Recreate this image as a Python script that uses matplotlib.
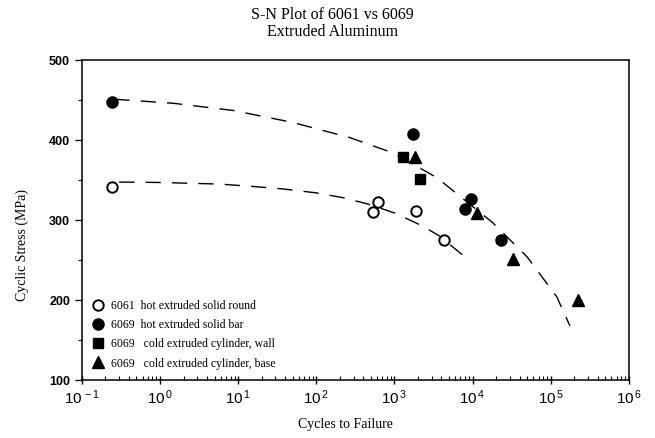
import matplotlib
matplotlib.use("Agg")
import matplotlib.pyplot as plt
from matplotlib.ticker import LogLocator, MultipleLocator, FixedLocator

plt.rcParams['font.family'] = ['Liberation Serif', 'DejaVu Serif']
plt.rcParams['mathtext.fontset'] = 'custom'
plt.rcParams['mathtext.rm'] = 'Liberation Sans'
plt.rcParams['mathtext.it'] = 'Liberation Sans'

# 6061 hot extruded solid round
al6061_n = [0.24, 530, 614, 1880, 4290]
al6061_s = [341, 310, 322, 311, 275]
# 6069 hot extruded solid bar
bar_n = [0.24, 1720, 7960, 9510, 23000]
bar_s = [447, 407, 314, 326, 275]
# 6069 cold extruded cylinder, wall
wall_n = [1280, 2120]
wall_s = [379, 351]
# 6069 cold extruded cylinder, base
base_n = [1830, 11350, 32800, 222800]
base_s = [379, 309, 251, 200]

# dashed trend lines
fit6069_n = [0.26, 1.46, 8.6, 50, 270, 955, 3500, 18000, 50000, 120000, 176000]
fit6069_s = [451, 446, 437, 422, 403, 384, 353, 297, 254, 204, 168]
fit6061_n = [0.3, 1.0, 5.8, 15.5, 37, 100, 220, 460, 1000, 2250, 3800, 8200]
fit6061_s = [347.5, 347, 345, 342, 339, 334, 328, 320, 309, 293, 280, 253]

xticks = [0.1, 1, 10, 100, 1e3, 1e4, 1e5, 1e6]
xtick_labels = [r'$10^{\,-1}$', r'$10^{\,0}$', r'$10^{\,1}$', r'$10^{\,2}$',
                r'$10^{\,3}$', r'$10^{\,4}$', r'$10^{\,5}$', r'$10^{\,6}$']

labels = ['6061  hot extruded solid round',
          '6069  hot extruded solid bar',
          '6069   cold extruded cylinder, wall',
          '6069   cold extruded cylinder, base']

fig = plt.figure(figsize=(6.55, 4.38), dpi=100)
ax = fig.add_axes([0.125, 0.132, 0.835, 0.731])

dash = (0, (11, 8))
ax.plot(fit6069_n, fit6069_s, color='black', lw=1.0, linestyle=dash)
ax.plot(fit6061_n, fit6061_s, color='black', lw=1.0, linestyle=dash)

ax.plot(al6061_n, al6061_s, 'o', ms=7.5, mfc='white', mec='black', mew=1.4,
        label=labels[0])
ax.plot(bar_n, bar_s, 'o', ms=8, color='black', label=labels[1])
ax.plot(wall_n, wall_s, 's', ms=7.5, color='black', label=labels[2])
ax.plot(base_n, base_s, '^', ms=8, color='black', label=labels[3])

ax.set_xscale('log')
ax.set_xlim(0.1, 1e6)
ax.set_ylim(100, 500)
ax.yaxis.set_major_locator(MultipleLocator(100))
ax.yaxis.set_minor_locator(MultipleLocator(50))
ax.xaxis.set_major_locator(FixedLocator(xticks))
ax.set_xticklabels(xtick_labels)
ax.xaxis.set_minor_locator(LogLocator(base=10, subs=range(2, 10), numticks=10))

for sp in ax.spines.values():
    sp.set_linewidth(1.1)
ax.tick_params(axis='y', which='major', direction='out', length=5, width=1,
               labelsize=9)
ax.tick_params(axis='y', which='minor', direction='out', length=3, width=0.8)
ax.tick_params(axis='x', which='major', direction='inout', length=6, width=1,
               labelsize=11, pad=3)
ax.tick_params(axis='x', which='minor', direction='in', length=3, width=0.8)
for t in ax.get_yticklabels():
    t.set_family('Liberation Sans')
    t.set_fontweight('bold')

leg = ax.legend(loc='lower left', frameon=False, fontsize=8.5,
                handletextpad=0.6, borderaxespad=0.5, labelspacing=0.6,
                handlelength=1.0, bbox_to_anchor=(0.0, 0.0))

fig.text(0.508, 0.965, 'S-N Plot of 6061 vs 6069', ha='center', va='center',
         fontsize=11.5)
fig.text(0.508, 0.928, 'Extruded Aluminum', ha='center', va='center',
         fontsize=11.5)
fig.text(0.528, 0.030, 'Cycles to Failure', ha='center', va='center',
         fontsize=10)
fig.text(0.034, 0.44, 'Cyclic Stress (MPa)', ha='center', va='center',
         rotation=90, fontsize=10)

fig.savefig('out.png', dpi=100)
